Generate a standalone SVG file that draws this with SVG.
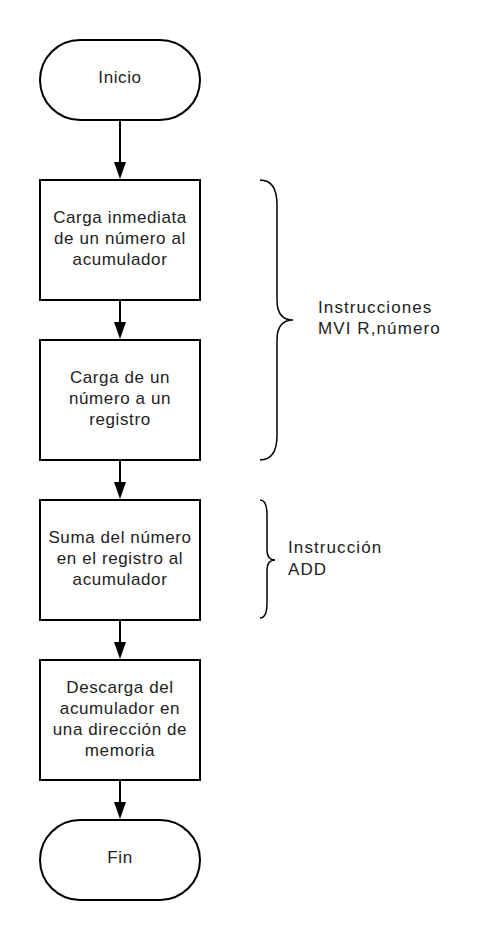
<svg xmlns="http://www.w3.org/2000/svg" width="480" height="940" viewBox="0 0 480 940">
<defs>
<style>
.shape{fill:#fff;stroke:#000;stroke-width:2}
.brace{fill:none;stroke:#000;stroke-width:1.5}
.line{stroke:#000;stroke-width:2;fill:none}
.head{fill:#000;stroke:none}
text{font-family:"Liberation Sans",Arial,sans-serif;font-size:17px;fill:#222;letter-spacing:0.6px}
.c{text-anchor:middle}
.lbl{letter-spacing:1.1px}
</style>
</defs>
<rect width="480" height="940" fill="#fff"/>
<g id="connectors">
<line class="line" x1="120" y1="120" x2="120" y2="164"/>
<polygon class="head" points="114,162 126,162 120,179"/>
<line class="line" x1="120" y1="300" x2="120" y2="324"/>
<polygon class="head" points="114,322 126,322 120,339"/>
<line class="line" x1="120" y1="460" x2="120" y2="484"/>
<polygon class="head" points="114,482 126,482 120,499"/>
<line class="line" x1="120" y1="620" x2="120" y2="644"/>
<polygon class="head" points="114,642 126,642 120,659"/>
<line class="line" x1="120" y1="780" x2="120" y2="804"/>
<polygon class="head" points="114,802 126,802 120,819"/>
</g>
<g id="inicio">
<rect class="shape" x="40" y="40" width="160" height="80" rx="40" ry="40"/>
<text class="c" x="120" y="83">Inicio</text>
</g>
<g id="carga-inmediata">
<rect class="shape" x="40" y="180" width="160" height="120"/>
<text class="c" x="120" y="223">Carga inmediata</text>
<text class="c" x="120" y="244">de un número al</text>
<text class="c" x="120" y="265">acumulador</text>
</g>
<g id="carga-registro">
<rect class="shape" x="40" y="340" width="160" height="120"/>
<text class="c" x="120" y="383">Carga de un</text>
<text class="c" x="120" y="404">número a un</text>
<text class="c" x="120" y="425">registro</text>
</g>
<g id="suma">
<rect class="shape" x="40" y="500" width="160" height="120"/>
<text class="c" x="120" y="543">Suma del número</text>
<text class="c" x="120" y="564">en el registro al</text>
<text class="c" x="120" y="585">acumulador</text>
</g>
<g id="descarga">
<rect class="shape" x="40" y="660" width="160" height="120"/>
<text class="c" x="120" y="693">Descarga del</text>
<text class="c" x="120" y="714">acumulador en</text>
<text class="c" x="120" y="735">una dirección de</text>
<text class="c" x="120" y="756">memoria</text>
</g>
<g id="fin">
<rect class="shape" x="40" y="820" width="160" height="80" rx="40" ry="40"/>
<text class="c" x="120" y="863">Fin</text>
</g>
<g id="brace-mvi">
<path class="brace" d="M260,180 Q277,180 277,205 L277,300 Q277,320 293,320 Q277,320 277,340 L277,435 Q277,460 260,460"/>
<text class="lbl" x="318" y="313">Instrucciones</text>
<text class="lbl" x="318" y="334">MVI R,número</text>
</g>
<g id="brace-add">
<path class="brace" d="M260,500 Q267,500 267,515 L267,550 Q267,560 275,560 Q267,560 267,570 L267,603 Q267,618 260,618"/>
<text class="lbl" x="288" y="553">Instrucción</text>
<text class="lbl" x="288" y="575">ADD</text>
</g>
</svg>
